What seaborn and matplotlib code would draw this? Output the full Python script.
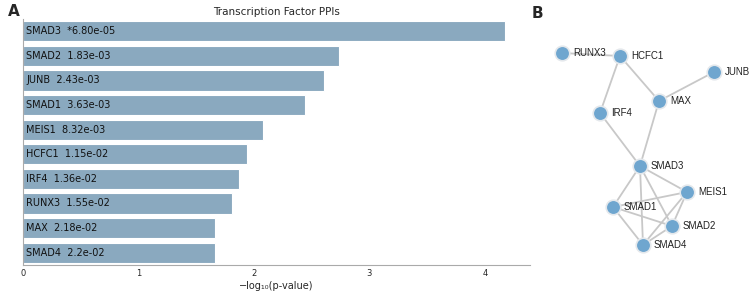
import matplotlib
matplotlib.use("Agg")
import matplotlib.pyplot as plt
import seaborn as sns
import pandas as pd

# panel A data
factors = ["SMAD3", "SMAD2", "JUNB", "SMAD1", "MEIS1", "HCFC1", "IRF4", "RUNX3", "MAX", "SMAD4"]
pvalue_labels = ["*6.80e-05", "1.83e-03", "2.43e-03", "3.63e-03", "8.32e-03",
                 "1.15e-02", "1.36e-02", "1.55e-02", "2.18e-02", "2.2e-02"]
neg_log_p = [4.17, 2.74, 2.61, 2.44, 2.08, 1.94, 1.87, 1.81, 1.66, 1.66]

# panel B data (layout positions of the network)
nodes = ["RUNX3", "HCFC1", "JUNB", "MAX", "IRF4", "SMAD3", "MEIS1", "SMAD1", "SMAD2", "SMAD4"]
node_x = [562, 620, 714, 659, 600, 640, 687, 613, 672, 643]
node_y = [53, 56, 72, 101, 113, 166, 192, 207, 226, 245]
edges = [("RUNX3", "HCFC1"), ("HCFC1", "IRF4"), ("HCFC1", "MAX"), ("MAX", "JUNB"),
         ("IRF4", "SMAD3"), ("MAX", "SMAD3"), ("SMAD3", "SMAD1"), ("SMAD3", "SMAD4"),
         ("SMAD3", "SMAD2"), ("SMAD3", "MEIS1"), ("MEIS1", "SMAD1"), ("MEIS1", "SMAD2"),
         ("MEIS1", "SMAD4"), ("SMAD1", "SMAD2"), ("SMAD1", "SMAD4"), ("SMAD2", "SMAD4")]

sns.set_style("white")
plt.rcParams["font.family"] = ["DejaVu Sans"]

fig = plt.figure(figsize=(7.55, 2.92), dpi=100)

# ---- panel A: bar chart
ax = fig.add_axes([23 / 755, 1 - 265 / 292, 507 / 755, 246 / 292])
df = pd.DataFrame({"factor": factors, "score": neg_log_p, "p": pvalue_labels})
sns.barplot(data=df, x="score", y="factor", color="#8aa9bf", saturation=1,
            edgecolor="white", linewidth=0.8, width=0.82, ax=ax)
for i, row in df.iterrows():
    ax.text(0.03, i, f"{row['factor']}  {row['p']}", va="center", ha="left",
            fontsize=7, color="#111111")
ax.set_yticks([])
ax.set_ylabel("")
ax.set_xlim(0, 4.39)
ax.set_xticks([0, 1, 2, 3, 4])
ax.tick_params(axis="x", labelsize=6, length=2, pad=1, color="#999999")
ax.set_xlabel("\u2212log\u2081\u2080(p-value)", fontsize=7, labelpad=2)
ax.set_title("Transcription Factor PPIs", fontsize=7.5, pad=3)
sns.despine(ax=ax)
for s in ["left", "bottom"]:
    ax.spines[s].set_color("#aaaaaa")
    ax.spines[s].set_linewidth(0.8)

fig.text(8 / 755, 1 - 12 / 292, "A", fontsize=11, fontweight="bold", va="center")
fig.text(532 / 755, 1 - 14 / 292, "B", fontsize=11, fontweight="bold", va="center")

# ---- panel B: network
ax2 = fig.add_axes([540 / 755, 0, 215 / 755, 1])
pos = {n: (x, y) for n, x, y in zip(nodes, node_x, node_y)}
for a, b in edges:
    ax2.plot([pos[a][0], pos[b][0]], [pos[a][1], pos[b][1]], color="#c8c8c8",
             lw=1.3, zorder=1)
net = pd.DataFrame({"node": nodes, "x": node_x, "y": node_y})
sns.scatterplot(data=net, x="x", y="y", s=110, color="#6fa6cf", edgecolor="#e4e8ec",
                linewidth=1.2, zorder=3, ax=ax2, legend=False)
for n, x, y in zip(nodes, node_x, node_y):
    ax2.text(x + 11, y, n, fontsize=7, va="center", ha="left", color="#222222",
             family=["Liberation Sans", "DejaVu Sans"], zorder=4)
ax2.set_xlim(540, 755)
ax2.set_ylim(292, 0)
ax2.axis("off")

fig.savefig("out.png", dpi=100)
